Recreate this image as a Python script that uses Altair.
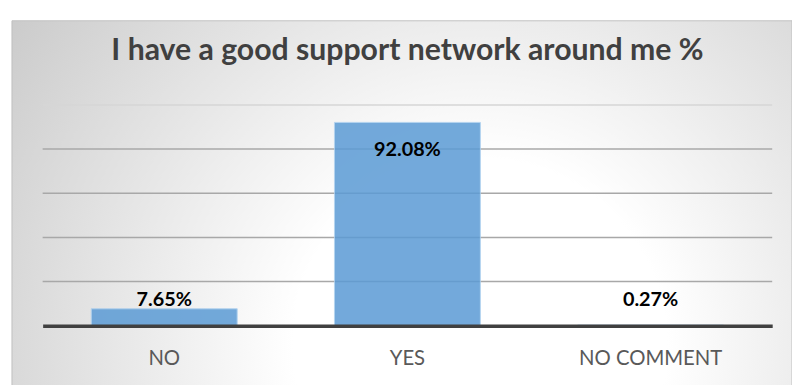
import altair as alt
import pandas as pd

categories = ["NO", "YES", "NO COMMENT"]
values = [7.65, 92.08, 0.27]
labels = ["7.65%", "92.08%", "0.27%"]
grid_values = [20, 40, 60, 80, 100]
title_text = "I have a good support network around me %"

df = pd.DataFrame({"cat": categories, "value": values, "label": labels})
grid_df = pd.DataFrame({"g": grid_values})
bg_df = pd.DataFrame({"k": [0]})

FONT = "Lato"
W, H = 737, 223

x_enc = alt.X("cat:N", sort=categories,
              scale=alt.Scale(paddingInner=0.4, paddingOuter=0.2),
              axis=alt.Axis(title=None, labelAngle=0, ticks=False, zindex=1,
                            labelFont=FONT, labelFontSize=20.5, labelColor="#595959",
                            labelBaseline="alphabetic", labelPadding=39,
                            domainColor="#404040", domainWidth=3.5))
y_scale = alt.Scale(domain=[0, 100])

background = alt.Chart(bg_df).mark_rect(
    fill={"gradient": "radial",
          "stops": [{"offset": 0, "color": "#ffffff"},
                    {"offset": 0.3, "color": "#ffffff"},
                    {"offset": 1, "color": "#c4c4c4"}],
          "x1": 0.6, "y1": 0.68, "r1": 0,
          "x2": 0.6, "y2": 0.68, "r2": 0.8},
    stroke="#c0c0c0", strokeWidth=1
).encode(x=alt.value(-31), x2=alt.value(757), y=alt.value(-85), y2=alt.value(290))

grid = alt.Chart(grid_df).mark_rule(strokeWidth=1.5).encode(
    y=alt.Y("g:Q", scale=y_scale, axis=None),
    x=alt.value(0), x2=alt.value(W),
    color=alt.condition("datum.g === 100", alt.value("#d6d6d6"), alt.value("#a8a8a8")),
)

bars = alt.Chart(df).mark_bar(color="#5b9bd5", opacity=0.85,
                              stroke="#a9cdee", strokeWidth=1).encode(
    x=x_enc,
    y=alt.Y("value:Q", scale=y_scale, axis=None),
)

outside = alt.Chart(df).transform_filter("datum.value < 50").transform_calculate(
    ly="max(datum.value, 7.65)"
).mark_text(font=FONT, fontSize=20, fontWeight="bold", color="#000000",
            baseline="alphabetic", dy=-3).encode(
    x=alt.X("cat:N", sort=categories),
    y=alt.Y("ly:Q", scale=y_scale),
    text="label:N",
)

inside = alt.Chart(df).transform_filter("datum.value >= 50").mark_text(
    font=FONT, fontSize=20, fontWeight="bold", color="#000000",
    baseline="alphabetic", dy=34).encode(
    x=alt.X("cat:N", sort=categories),
    y=alt.Y("value:Q", scale=y_scale),
    text="label:N",
)

chart = alt.layer(background, grid, bars, outside, inside).properties(
    width=W, height=H,
    title=alt.TitleParams(title_text, font=FONT, fontSize=30.5, fontWeight="bold",
                          color="#404040", anchor="middle", frame="group",
                          baseline="alphabetic", offset=-71),
    autosize=alt.AutoSizeParams(type="none"),
    padding={"left": 35, "top": 96, "right": 20, "bottom": 58},
    background="#ffffff",
).configure_view(stroke=None)

chart.save("out.html", embed_options={"renderer": "svg", "actions": False})
